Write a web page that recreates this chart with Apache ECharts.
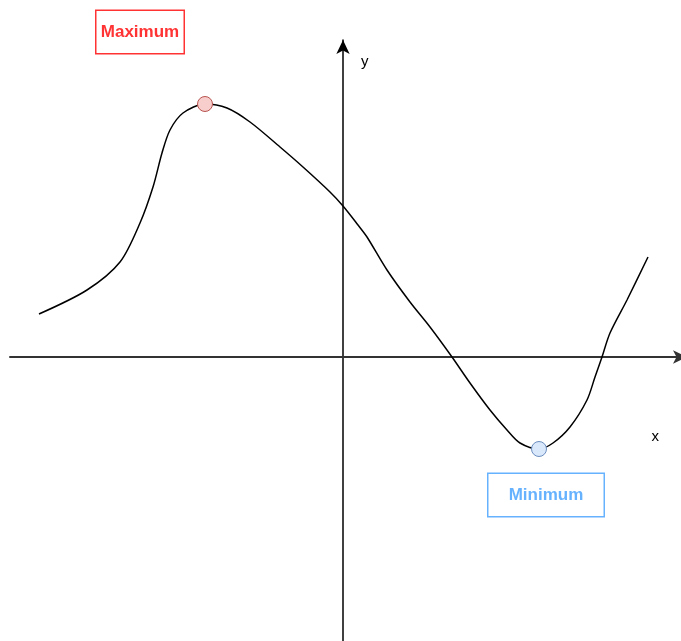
<!DOCTYPE html>
<html>
<head>
<meta charset="utf-8">
<script src="https://cdn.jsdelivr.net/npm/echarts@6/dist/echarts.min.js"></script>
<style>
  html, body { margin: 0; padding: 0; background: #fff; overflow: hidden; }
  /* a bit wider than the window so the x arrow tip runs off the right edge */
  #chart { width: 687px; height: 641px; }
</style>
</head>
<body>
<div id="chart"></div>
<script>
// curve, 1 unit = 40px, origin at the axes crossing
const curveX = [-7.6, -6.4, -5.575, -5.075, -4.75, -4.525, -4.325, -4.0, -3.45, -2.9, -2.325, -1.575, -1.0, -0.325, 0,
  0.375, 0.6, 1.1, 1.675, 2.175, 2.725, 3.175, 3.675, 4.1, 4.425, 4.9, 5.25, 5.675, 6.1, 6.3, 6.475, 6.675, 7.1, 7.625];
const curveY = [1.075, 1.675, 2.375, 3.35, 4.25, 5.1, 5.675, 6.1, 6.325, 6.225, 5.875, 5.25, 4.75, 4.125, 3.775,
  3.3, 3.0, 2.175, 1.375, 0.75, 0, -0.65, -1.325, -1.825, -2.15, -2.3, -2.15, -1.75, -1.075, -0.5, 0, 0.6, 1.425, 2.5];

const extremeNames = ['Maximum', 'Minimum'];
const extremeX = [-3.45, 4.9];
const extremeY = [6.325, -2.3];

// axis range matches the drawing area edges
const xMin = -8.325, xMax = 8.6;
const yMin = -7.1, yMax = 7.925;

const chart = echarts.init(document.getElementById('chart'));

const font = '"Liberation Sans", Arial, Helvetica, sans-serif';

const axisBase = {
  type: 'value',
  splitLine: {show: false},
  axisTick: {show: false},
  axisLabel: {show: false}
};

const extremeStyle = [
  {fill: '#f8cecc', stroke: '#b85450', text: '#ff3333', box: '#ff3333', w: 87, pos: 'top', offset: [-65, -43]},
  {fill: '#dae8fc', stroke: '#6c8ebf', text: '#66b2ff', box: '#66b2ff', w: 115, pos: 'bottom', offset: [7, 17]}
];

const extremeData = extremeNames.map(function(name, i) {
  const s = extremeStyle[i];
  return {
    name: name,
    value: [extremeX[i], extremeY[i]],
    itemStyle: {color: s.fill, borderColor: s.stroke, borderWidth: 1, opacity: 1},
    label: {
      show: true,
      position: s.pos,
      distance: 0,
      offset: s.offset,
      formatter: '{b}',
      color: s.text,
      fontWeight: 'bold',
      fontSize: 17,
      fontFamily: font,
      width: s.w,
      height: 42,
      lineHeight: 42,
      align: 'center',
      backgroundColor: '#fff',
      borderColor: s.box,
      borderWidth: 1.5
    }
  };
});

chart.setOption({
  animation: false,
  backgroundColor: '#fff',
  grid: {left: 10, right: 0, top: 40, bottom: 0},
  xAxis: Object.assign({}, axisBase, {
    min: xMin, max: xMax,
    name: 'x',
    nameLocation: 'end',
    nameGap: 0,
    nameTextStyle: {
      color: '#000', fontSize: 15, fontFamily: font,
      align: 'right', verticalAlign: 'top', padding: [72, 28, 0, 0]
    },
    axisLine: {
      onZero: true,
      symbol: ['none', 'arrow'],
      symbolSize: [10, 14],
      lineStyle: {color: '#333', width: 2}
    }
  }),
  yAxis: Object.assign({}, axisBase, {
    min: yMin, max: yMax,
    name: 'y',
    nameLocation: 'end',
    nameGap: 0,
    nameTextStyle: {
      color: '#000', fontSize: 15, fontFamily: font,
      align: 'left', verticalAlign: 'top', padding: [14, 0, 0, 18]
    },
    axisLine: {
      onZero: true,
      symbol: ['none', 'arrow'],
      symbolSize: [10, 14],
      lineStyle: {color: '#000', width: 1.5}
    }
  }),
  series: [{
    type: 'line',
    data: curveX.map(function(x, i) { return [x, curveY[i]]; }),
    smooth: 0.3,
    showSymbol: false,
    lineStyle: {color: '#000', width: 1.5},
    z: 2
  }, {
    type: 'scatter',
    data: extremeData,
    symbolSize: 15,
    z: 3
  }]
});
</script>
</body>
</html>
